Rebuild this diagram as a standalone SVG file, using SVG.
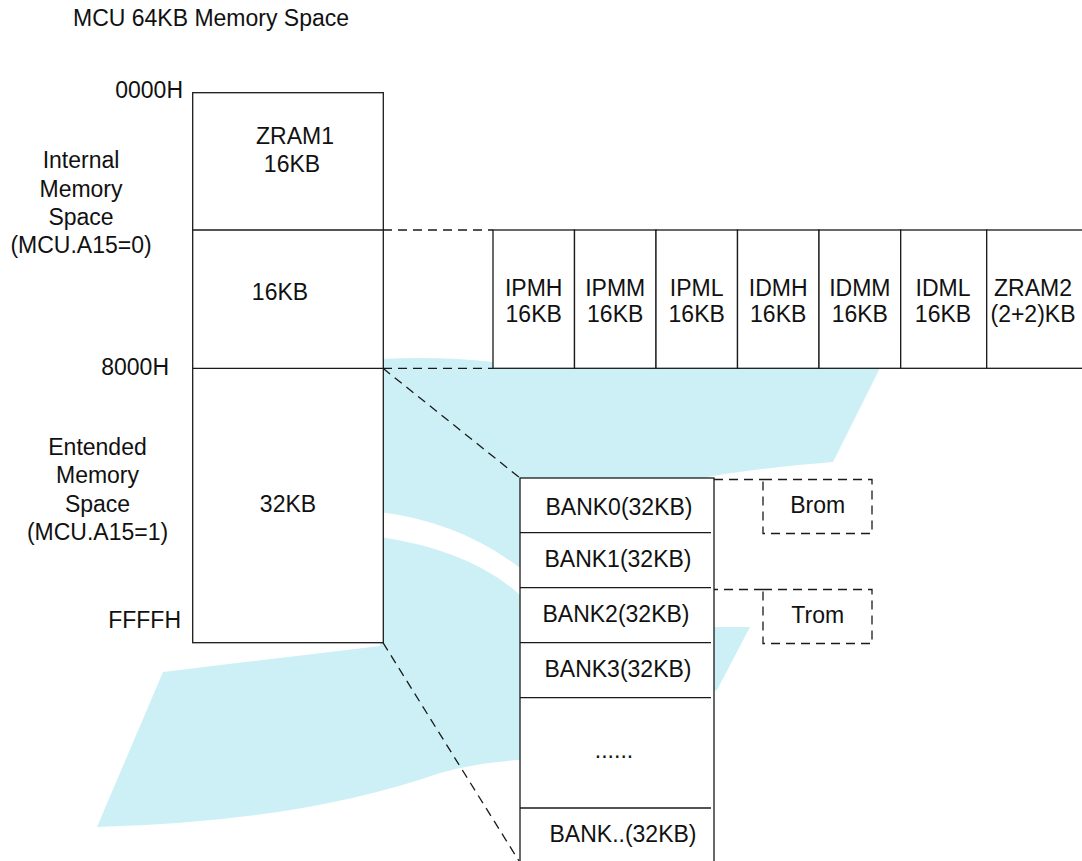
<svg xmlns="http://www.w3.org/2000/svg" width="1082" height="861" viewBox="0 0 1082 861">
<style>
text{font-family:"Liberation Sans",Arial,sans-serif;font-size:23px;fill:#111;}
.m{text-anchor:middle;}
.e{text-anchor:end;}
.box{fill:#fff;stroke:#1a1a1a;stroke-width:1.3;}
.ln{fill:none;stroke:#1a1a1a;stroke-width:1.3;}
.dash{fill:none;stroke:#1a1a1a;stroke-width:1.3;stroke-dasharray:9 6;}
.wm{fill:#ccf0f6;}
</style>
<rect width="1082" height="861" fill="#fff"/>
<g id="watermark">
<path class="wm" d="M380,359 Q440,356 493,362 L880,362 L880,368 L833,462 Q760,468 713,476 L600,500 L520,568 Q460,522 380,512 Z"/>
<path class="wm" d="M163,672 Q280,658 380,646 L380,537 Q470,550 520,595 L713,627 L750,627 L717,690 L520,760 Q480,762 440,773 Q300,822 97,827 Z"/>
</g>
<text x="73" y="26" style="font-size:23px">MCU 64KB Memory Space</text>
<g id="labels-left">
<text class="e" x="183" y="98">0000H</text>
<text class="m" x="81" y="168">Internal</text>
<text class="m" x="81" y="196.5">Memory</text>
<text class="m" x="81" y="225">Space</text>
<text class="m" x="81" y="253">(MCU.A15=0)</text>
<text class="e" x="169" y="375">8000H</text>
<text class="m" x="97.5" y="455">Entended</text>
<text class="m" x="97.5" y="483.3">Memory</text>
<text class="m" x="97.5" y="511.7">Space</text>
<text class="m" x="97.5" y="540">(MCU.A15=1)</text>
<text class="e" x="181" y="628">FFFFH</text>
</g>
<g id="connectors">
<line class="dash" x1="383" y1="230" x2="493" y2="230"/>
<line class="dash" x1="383" y1="368.3" x2="493" y2="368.3"/>
<line class="dash" x1="383" y1="368.3" x2="520" y2="478"/>
<line class="dash" x1="383" y1="642.7" x2="519" y2="861"/>
<line class="dash" x1="714" y1="479.5" x2="763" y2="479.5"/>
<line class="dash" x1="709" y1="589.5" x2="763" y2="589.5"/>
</g>
<g id="mcu-space">
<rect class="box" x="192.7" y="92.7" width="190.6" height="550"/>
<line class="ln" x1="192.7" y1="230" x2="383.3" y2="230"/>
<line class="ln" x1="192.7" y1="368.3" x2="383.3" y2="368.3"/>
<g id="zram1"><text class="m" x="295" y="144">ZRAM1</text><text class="m" x="292" y="172">16KB</text></g>
<g id="mid16"><text class="m" x="280" y="300">16KB</text></g>
<g id="ext32"><text class="m" x="288" y="511.7">32KB</text></g>
</g>
<g id="ipmh"><rect class="box" x="493" y="230" width="81.5" height="138.3"/><text class="m" x="533.7" y="295.7">IPMH</text><text class="m" x="533.7" y="322">16KB</text></g>
<g id="ipmm"><rect class="box" x="574.5" y="230" width="81.5" height="138.3"/><text class="m" x="615.2" y="295.7">IPMM</text><text class="m" x="615.2" y="322">16KB</text></g>
<g id="ipml"><rect class="box" x="656" y="230" width="81.5" height="138.3"/><text class="m" x="696.7" y="295.7">IPML</text><text class="m" x="696.7" y="322">16KB</text></g>
<g id="idmh"><rect class="box" x="737.5" y="230" width="81.5" height="138.3"/><text class="m" x="778.2" y="295.7">IDMH</text><text class="m" x="778.2" y="322">16KB</text></g>
<g id="idmm"><rect class="box" x="819" y="230" width="81.7" height="138.3"/><text class="m" x="859.8" y="295.7">IDMM</text><text class="m" x="859.8" y="322">16KB</text></g>
<g id="idml"><rect class="box" x="900.7" y="230" width="86" height="138.3"/><text class="m" x="943" y="295.7">IDML</text><text class="m" x="943" y="322">16KB</text></g>
<g id="zram2"><rect class="box" x="986.7" y="230" width="110" height="138.3"/><text class="m" x="1033" y="295.7">ZRAM2</text><text class="m" x="1033" y="322">(2+2)KB</text></g>
<g id="banks">
<rect class="box" x="520" y="478" width="194" height="400"/>
<line class="ln" x1="520" y1="532.7" x2="711" y2="532.7"/>
<line class="ln" x1="520" y1="587.7" x2="711" y2="587.7"/>
<line class="ln" x1="520" y1="642.7" x2="711" y2="642.7"/>
<line class="ln" x1="520" y1="697.7" x2="711" y2="697.7"/>
<line class="ln" x1="520" y1="808" x2="711" y2="808"/>
<g id="bank0"><text class="m" x="619" y="515">BANK0(32KB)</text></g>
<g id="bank1"><text class="m" x="618" y="566.7">BANK1(32KB)</text></g>
<g id="bank2"><text class="m" x="616" y="621.7">BANK2(32KB)</text></g>
<g id="bank3"><text class="m" x="618" y="676.7">BANK3(32KB)</text></g>
<g id="bank-dots"><text class="m" x="614" y="758">......</text></g>
<g id="bank-n"><text class="m" x="623" y="841.7">BANK..(32KB)</text></g>
</g>
<g id="brom"><rect class="dash" x="763" y="479.5" width="109" height="54"/><text class="m" x="817.7" y="513">Brom</text></g>
<g id="trom"><rect class="dash" x="763" y="589.5" width="109" height="54"/><text class="m" x="817.7" y="623">Trom</text></g>
</svg>
